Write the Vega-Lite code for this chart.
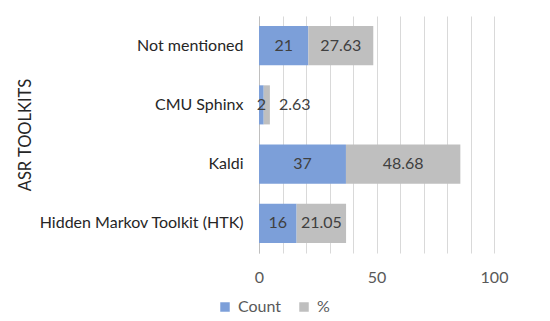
{
  "$schema": "https://vega.github.io/schema/vega-lite/v6.json",
  "width": 235,
  "height": 237,
  "autosize": "none",
  "padding": {"left": 259, "top": 16, "right": 56, "bottom": 68},
  "background": "white",
  "config": {
    "font": "Lato",
    "view": {"stroke": null},
    "axisX": {
      "title": null, "tickCount": 10,
      "labelExpr": "datum.value == 0 || datum.value == 50 || datum.value == 100 ? datum.label : ''",
      "labelFont": "Lato", "labelFontSize": 16, "labelColor": "#595959", "labelPadding": 16,
      "labelFlush": false, "labelBound": false, "labelOverlap": false,
      "ticks": false, "domain": false, "grid": true, "gridColor": "#D9D9D9", "gridWidth": 1
    }
  },
  "data": {"values": [
    {"toolkit": "Not mentioned", "series": "Count", "value": 21, "label": "21"},
    {"toolkit": "Not mentioned", "series": "%", "value": 27.63, "label": "27.63"},
    {"toolkit": "CMU Sphinx", "series": "Count", "value": 2, "label": "2"},
    {"toolkit": "CMU Sphinx", "series": "%", "value": 2.63, "label": "2.63"},
    {"toolkit": "Kaldi", "series": "Count", "value": 37, "label": "37"},
    {"toolkit": "Kaldi", "series": "%", "value": 48.68, "label": "48.68"},
    {"toolkit": "Hidden Markov Toolkit (HTK)", "series": "Count", "value": 16, "label": "16"},
    {"toolkit": "Hidden Markov Toolkit (HTK)", "series": "%", "value": 21.05, "label": "21.05"}
  ]},
  "transform": [
    {"calculate": "datum.series == 'Count' ? 0 : 1", "as": "ord"},
    {"stack": "value", "groupby": ["toolkit"], "sort": [{"field": "ord"}], "as": ["v0", "v1"]},
    {"calculate": "(datum.v0 + datum.v1) / 2", "as": "mid"}
  ],
  "encoding": {
    "y": {
      "field": "toolkit", "type": "nominal",
      "sort": ["Not mentioned", "CMU Sphinx", "Kaldi", "Hidden Markov Toolkit (HTK)"],
      "scale": {"paddingInner": 0.34, "paddingOuter": 0.17},
      "axis": {
        "title": "ASR TOOLKITS", "titleFont": "Lato", "titleFontSize": 16.5, "titleFontWeight": "normal",
        "titleColor": "#262626", "titlePadding": 26,
        "labelFont": "Lato", "labelFontSize": 16, "labelColor": "#262626", "labelPadding": 16, "labelLimit": 300,
        "ticks": false, "domain": true, "domainColor": "#BFBFBF", "grid": false
      }
    }
  },
  "layer": [
    {
      "mark": {"type": "bar"},
      "encoding": {
        "x": {
          "field": "v0", "type": "quantitative", "title": null,
          "scale": {"domain": [0, 100], "nice": false}
        },
        "x2": {"field": "v1"},
        "color": {
          "field": "series", "type": "nominal",
          "scale": {"domain": ["Count", "%"], "range": ["#7C9FD9", "#BFBFBF"]},
          "legend": {
            "title": null, "orient": "none", "direction": "horizontal",
            "legendX": -42, "legendY": 283,
            "symbolType": "square", "symbolSize": 90, "symbolStrokeWidth": 0,
            "labelFont": "Lato", "labelFontSize": 16, "labelColor": "#595959",
            "columnPadding": 14, "labelOffset": 5
          }
        }
      }
    },
    {
      "transform": [{"filter": "!(datum.toolkit == 'CMU Sphinx' && datum.series == '%')"}],
      "mark": {"type": "text", "font": "Lato", "fontSize": 16, "color": "#404040", "baseline": "middle", "align": "center"},
      "encoding": {
        "x": {"field": "mid", "type": "quantitative", "title": null},
        "text": {"field": "label"}
      }
    },
    {
      "transform": [{"filter": "datum.toolkit == 'CMU Sphinx' && datum.series == '%'"}],
      "mark": {"type": "text", "font": "Lato", "fontSize": 16, "color": "#404040", "baseline": "middle", "align": "center", "dx": 28},
      "encoding": {
        "x": {"field": "mid", "type": "quantitative", "title": null},
        "text": {"field": "label"}
      }
    }
  ]
}
